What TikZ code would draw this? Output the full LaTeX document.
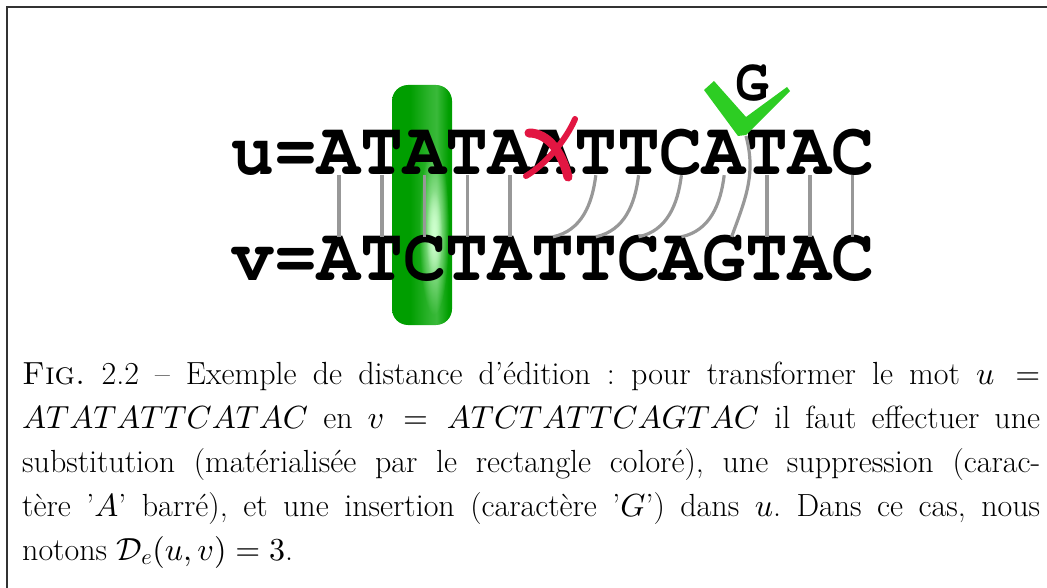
\documentclass[tikz,border=0pt]{standalone}
\usetikzlibrary{fadings}
\DeclareFontFamily{OML}{cmm}{\skewchar\font127 }
\DeclareFontShape{OML}{cmm}{m}{it}{<->cmmi10}{}
\DeclareFontShape{OMS}{cmsy}{m}{n}{<->cmsy10}{}
\DeclareFontShape{OT1}{cmr}{m}{n}{<->cmr10}{}
\frenchspacing
\definecolor{linkgray}{RGB}{152,152,152}
\definecolor{bargreen}{RGB}{0,158,0}
\definecolor{barlight}{RGB}{205,255,205}
\definecolor{crossred}{RGB}{226,22,66}
\definecolor{tickgreen}{RGB}{45,205,35}
\definecolor{framegray}{RGB}{50,50,50}
\pgfdeclarehorizontalshading{barshade}{100bp}{%
  color(0bp)=(bargreen); color(40bp)=(bargreen);
  color(56bp)=(bargreen!78!barlight); color(62bp)=(bargreen!72!barlight);
  color(72bp)=(bargreen); color(100bp)=(bargreen)}
\tikzfading[name=glow, inner color=transparent!0, outer color=transparent!100]
\tikzset{
  dna/.style={font={\fontsize{76}{76}\usefont{OT1}{pcr}{b}{n}}, inner sep=0pt,
    anchor=base, text height=43pt, text depth=0pt, xscale=0.94},
  link/.style={linkgray, line width=3.6pt},
  cross/.style={crossred, line cap=round},
  caption/.style={anchor=base west, text width=1018pt, align=justify, inner sep=0pt,
    font={\fontsize{32}{44}\selectfont}}
}
\begin{document}
\begin{tikzpicture}[x=1pt,y=1pt]
\useasboundingbox (0,0) rectangle (1047,-588);
\draw[framegray, line width=1.5pt] (7,-588) -- (7,-7) -- (1047,-7);
% substitution
\shade[shading=barshade, rounded corners=16pt] (392,-85) rectangle (452,-325);
\fill[barlight, path fading=glow] (434,-230) ellipse (15 and 85);
\fill[barlight, path fading=glow] (434,-235) ellipse (8 and 45);
% the two words
\node[dna] (ulab) at (274.8,-175) {u=};
\node[dna] (vlab) at (274.8,-280) {v=};
\foreach \c [count=\i] in {A,T,A,T,A,A,T,T,C,A,T,A,C}
  \node[dna] (u\i) at ({339+(\i-1)*42.8},-175) {\c};
\foreach \c [count=\i] in {A,T,C,T,A,T,T,C,A,G,T,A,C}
  \node[dna] (v\i) at ({339+(\i-1)*42.8},-280) {\c};
% insertion
\node[dna, font={\fontsize{60}{60}\usefont{OT1}{pcr}{b}{n}}, text height=34pt] (gins) at (752,-101) {G};
\coordinate (chk) at (746,-136);
% alignment
\foreach \i in {1,...,5,11,12,13}
  \draw[link] (u\i.south) -- (v\i.north);
\foreach \i/\j in {7/6,8/7,9/8,10/9}
  \draw[link, line width=3.2pt] (u\i.south) to[out=-97,in=12] (v\j.north);
\draw[link, line width=3.2pt] (chk) to[out=-75,in=70] (v10.70);
% deletion
\draw[cross, line width=9pt] (529,-133) .. controls (548,-133) and (562,-152) .. (568,-177);
\draw[cross, line width=6pt] (575,-119) .. controls (566,-140) and (546,-164) .. (526,-176);
\fill[tickgreen] (704,-90) -- (714,-81) -- (746,-117) -- (787,-87) -- (790,-91)
  -- (746,-135) -- (738,-136) -- cycle;
% caption
\node[caption] (cap) at (22,-384) {\textsc{Fig.} 2.2 -- Exemple de distance d'édition : pour
  transformer le mot $u =$\linebreak $ATATATTCATAC$ en $v = ATCTATTCAGTAC$ il faut effectuer
  une\linebreak substitution (matérialisée par le rectangle coloré), une suppression
  (carac-\linebreak tère '$A$' barré), et une insertion (caractère '$G$') dans $u$. Dans ce
  cas, nous\linebreak notons $\mathcal{D}_e(u,v) = 3$.};
\end{tikzpicture}
\end{document}
